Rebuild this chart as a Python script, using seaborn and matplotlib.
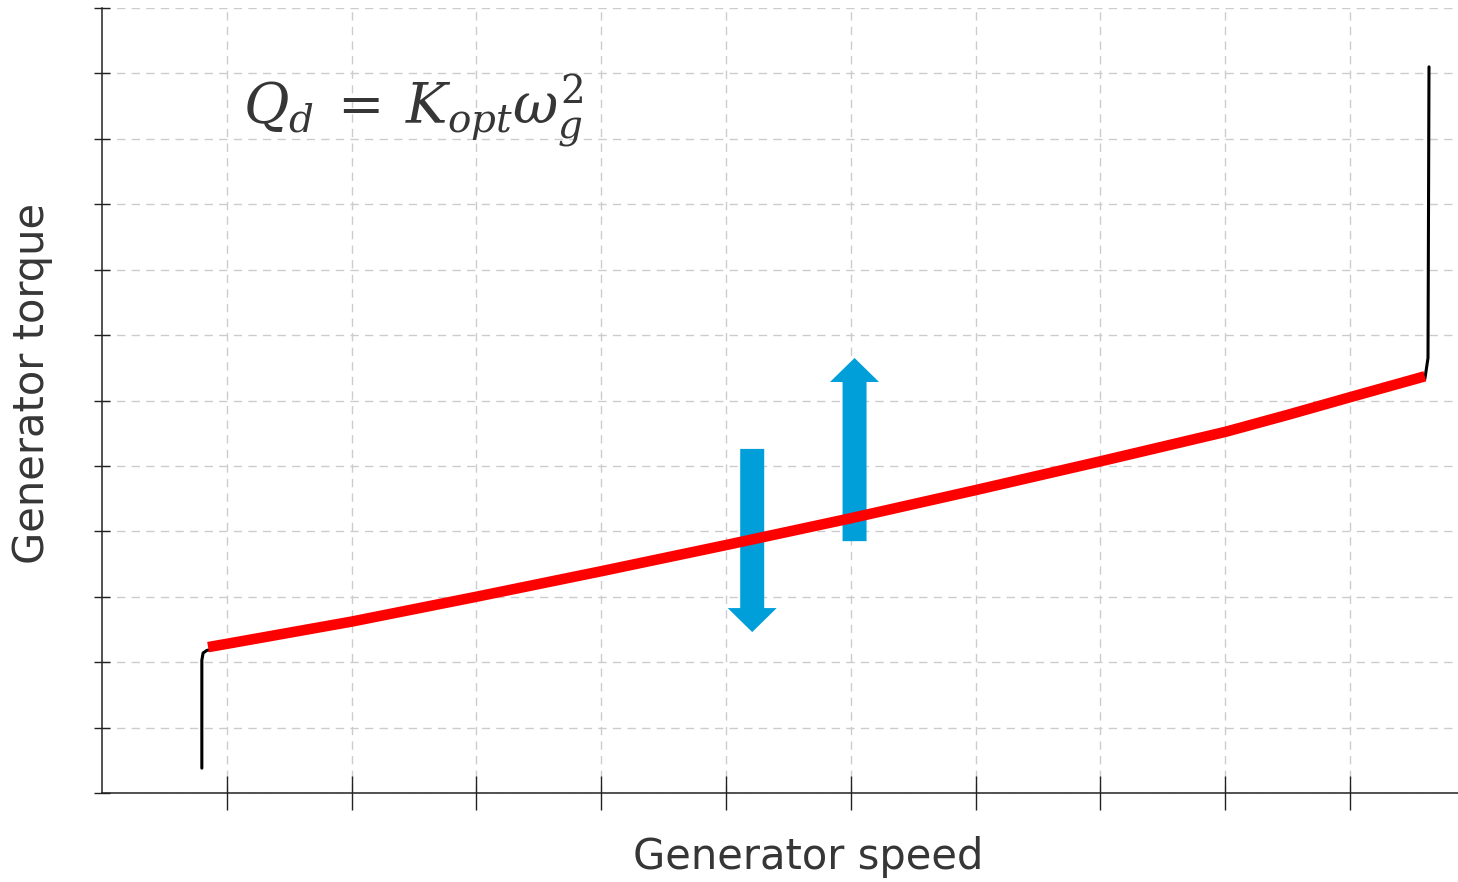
import numpy as np
import pandas as pd
import matplotlib
matplotlib.use("Agg")
import matplotlib.pyplot as plt
import seaborn as sns

# ---- data ----
red_x = [0.85, 1, 2, 3, 4, 5, 6, 7, 8, 9, 9.5, 10, 10.6]
red_y = [2.23, 2.28, 2.62, 3.0, 3.39, 3.79, 4.20, 4.63, 5.07, 5.52, 5.78, 6.05, 6.37]

black_x = [0.80, 0.80, 0.81, 0.84, 1, 2, 3, 4, 5, 6, 7, 8, 9, 9.5, 10, 10.6, 10.625, 10.633]
black_y = [0.38, 2.03, 2.14, 2.18, 2.24, 2.58, 2.96, 3.35, 3.75, 4.16, 4.59, 5.03, 5.48, 5.74, 6.01, 6.33, 6.65, 11.10]

arrow_x = [5.21, 6.03]
arrow_start = [5.26, 3.85]
arrow_end = [2.46, 6.65]

x_ticks = list(range(1, 11))
y_ticks = list(range(0, 13))

# ---- style ----
sns.set_theme(style="white")
plt.rcParams["font.family"] = ["DejaVu Sans"]
plt.rcParams["mathtext.fontset"] = "dejavuserif"

fig = plt.figure(figsize=(14.58, 8.82), dpi=100)
ax = fig.add_axes([102 / 1458, 89 / 882, 1356 / 1458, 785 / 882])

text_color = "#363636"

df_black = pd.DataFrame({"x": black_x, "y": black_y})
df_red = pd.DataFrame({"x": red_x, "y": red_y})

sns.lineplot(data=df_black, x="x", y="y", sort=False, estimator=None,
             color="black", lw=2.2, ax=ax, zorder=3)
sns.lineplot(data=df_red, x="x", y="y", sort=False, estimator=None,
             color="#ff0000", lw=7.6, ax=ax, zorder=4, solid_capstyle="butt")

for xa, ys, ye in zip(arrow_x, arrow_start, arrow_end):
    ax.arrow(xa, ys, 0, ye - ys, width=24 / 124.8, head_width=49 / 124.8,
             head_length=24 / 65.4, length_includes_head=True,
             color="#009fda", lw=0, zorder=2)

ax.set_xlim(0, 1356 / 124.8)
ax.set_ylim(0, 12)
ax.set_xticks(x_ticks)
ax.set_yticks(y_ticks)
ax.set_xticklabels([])
ax.set_yticklabels([])

ax.grid(True, color="#cccccc", linestyle=(0, (6, 4.5)), lw=1.0)
ax.set_axisbelow(True)

for s in ["top", "right"]:
    ax.spines[s].set_visible(False)
for s in ["left", "bottom"]:
    ax.spines[s].set_color("#222222")
    ax.spines[s].set_linewidth(1.1)

ax.tick_params(axis="x", direction="inout", length=25, width=1.0, color="#222222", bottom=True)
ax.tick_params(axis="y", direction="inout", length=11, width=1.0, color="#222222", left=True)

ax.set_xlabel("Generator speed", fontsize=30, color=text_color)
ax.set_ylabel("Generator torque", fontsize=30, color=text_color)
ax.xaxis.set_label_coords(0.521, -0.0815)
ax.xaxis.label.set_va("center")
ax.yaxis.set_label_coords(-0.0516, 0.522)
ax.yaxis.label.set_va("center")

ax.text(0.104, 0.852, r"$Q_d\:=\:K_{opt}\omega_g^2$", transform=ax.transAxes,
        fontsize=40, color=text_color, ha="left", va="baseline")

fig.savefig("out.png", dpi=100)
